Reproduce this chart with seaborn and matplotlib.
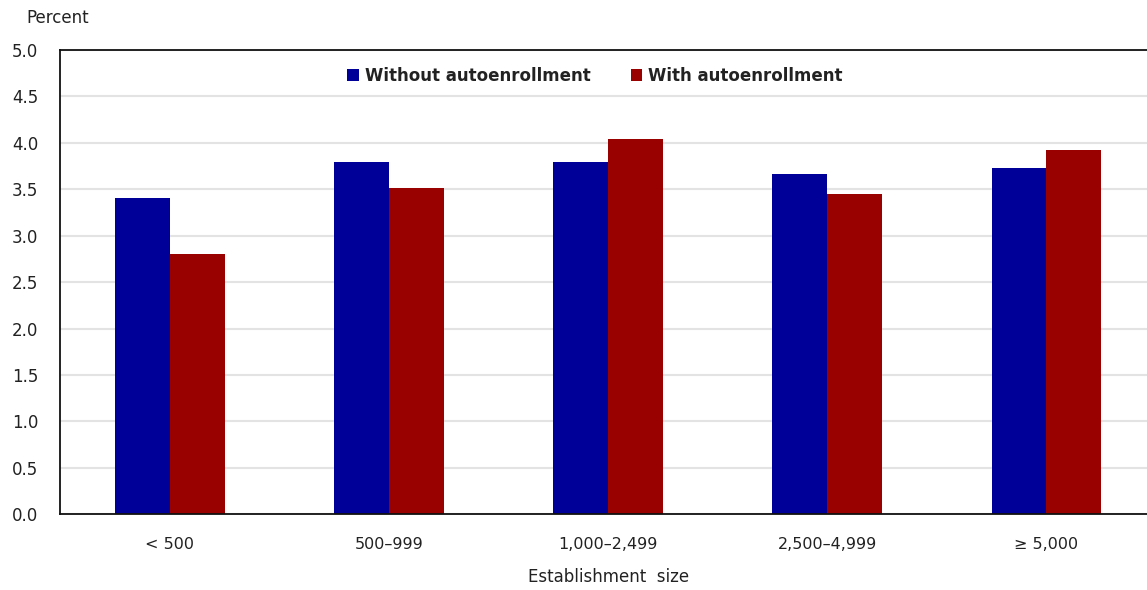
import matplotlib
matplotlib.use("Agg")
import matplotlib.pyplot as plt
import seaborn as sns
import pandas as pd
from matplotlib.patches import Patch

categories = ["< 500", "500\u2013999", "1,000\u20132,499", "2,500\u20134,999", "\u2265 5,000"]
without_auto = [3.40, 3.79, 3.79, 3.66, 3.73]
with_auto = [2.80, 3.51, 4.04, 3.45, 3.92]
series_names = ["Without autoenrollment", "With autoenrollment"]
y_ticks = [0.0, 0.5, 1.0, 1.5, 2.0, 2.5, 3.0, 3.5, 4.0, 4.5, 5.0]

df = pd.DataFrame({
    "size": categories * 2,
    "value": without_auto + with_auto,
    "series": [series_names[0]] * len(categories) + [series_names[1]] * len(categories),
})

sns.set_theme(style="white")
plt.rcParams["font.family"] = ["DejaVu Sans"]

colors = {series_names[0]: "#000099", series_names[1]: "#990000"}

fig = plt.figure(figsize=(11.47, 5.90), dpi=100)
ax = fig.add_axes([0.0527, 0.128, 0.955, 0.788])

sns.barplot(data=df, x="size", y="value", hue="series", order=categories,
            hue_order=series_names, palette=colors, width=0.5, saturation=1,
            edgecolor="none", linewidth=0, ax=ax, legend=False)

ax.set_ylim(0, 5.0)
ax.set_xlim(-0.5, 4.5)
ax.set_yticks(y_ticks)
ax.set_yticklabels([f"{t:.1f}" for t in y_ticks], fontsize=12, color="#222222")
ax.tick_params(axis="both", length=0)
ax.tick_params(axis="y", pad=16)
ax.tick_params(axis="x", pad=16, labelsize=11.5, labelcolor="#222222")
ax.yaxis.grid(True, color="#e3e3e3", linewidth=1.5)
ax.set_axisbelow(True)

for side in ["top", "left", "bottom"]:
    ax.spines[side].set_visible(True)
    ax.spines[side].set_color("#111111")
    ax.spines[side].set_linewidth(1.3)
ax.spines["right"].set_visible(False)

ax.set_xlabel("Establishment  size", fontsize=12, color="#222222", labelpad=12)
ax.set_ylabel("")
fig.text(0.023, 0.97, "Percent", fontsize=12, color="#222222", va="center", ha="left")

handles = [Patch(facecolor=colors[n], edgecolor="none") for n in series_names]
leg = ax.legend(handles, series_names, loc="upper center", bbox_to_anchor=(0.488, 0.995),
                ncol=2, frameon=False, fontsize=12, handlelength=0.7, handleheight=0.7,
                handletextpad=0.35, columnspacing=2.4)
for t in leg.get_texts():
    t.set_color("#222222")
    t.set_fontweight("semibold")

fig.savefig("out.png", dpi=100, facecolor="white")
